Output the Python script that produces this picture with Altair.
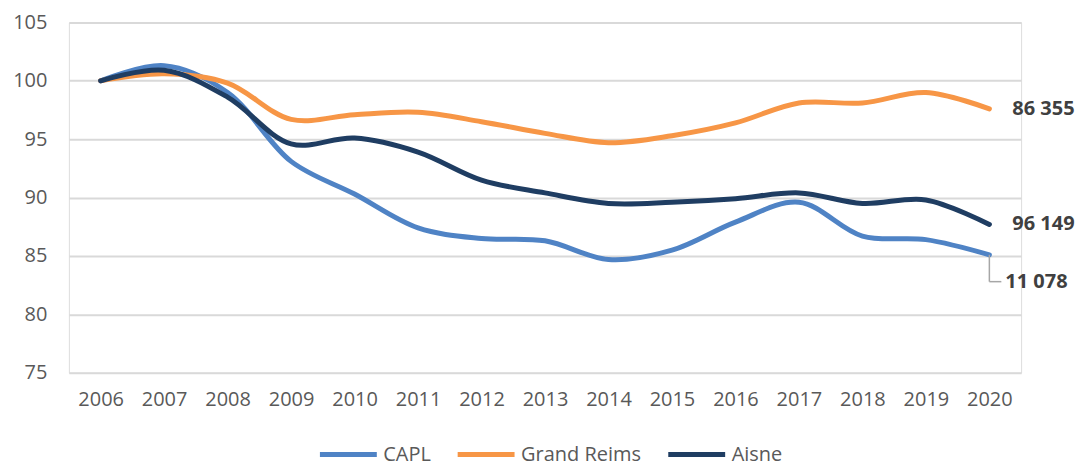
import altair as alt
import pandas as pd

years = [str(y) for y in range(2006, 2021)]
series = ["CAPL", "Grand Reims", "Aisne"]
capl = [100, 101.3, 99.0, 93.1, 90.3, 87.4, 86.5, 86.3, 84.7, 85.5, 87.9, 89.6, 86.7, 86.4, 85.1]
reims = [100, 100.6, 99.8, 96.7, 97.1, 97.3, 96.5, 95.5, 94.7, 95.3, 96.4, 98.1, 98.1, 99.0, 97.6]
aisne = [100, 100.9, 98.6, 94.6, 95.1, 93.9, 91.5, 90.4, 89.5, 89.6, 89.9, 90.4, 89.5, 89.8, 87.7]
end_labels = ["11 078", "86 355", "96 149"]
colors = ["#4F83C5", "#F79646", "#1F3D62"]
leader_drop = 2.3

rows = []
for name, vals in zip(series, [capl, reims, aisne]):
    for y, v in zip(years, vals):
        rows.append({"year": y, "value": v, "series": name})
df = pd.DataFrame(rows)

ends = pd.DataFrame({
    "year": [years[-1]] * 3,
    "series": series,
    "value": [capl[-1], reims[-1], aisne[-1]],
    "label": end_labels,
})
ends["low"] = ends["value"] - leader_drop

x = alt.X("year:O", scale=alt.Scale(type="point", padding=0.5),
          axis=alt.Axis(title=None, labelAngle=0, domain=False, ticks=False, grid=False,
                        labelPadding=17, labelFontSize=20, labelColor="#595959",
                        labelFont="Open Sans"))
y = alt.Y("value:Q", scale=alt.Scale(domain=[75, 105], nice=False, zero=False),
          axis=alt.Axis(title=None, values=[75, 80, 85, 90, 95, 100, 105],
                        domain=False, ticks=False, labelPadding=22,
                        labelFontSize=20, labelColor="#595959", labelFont="Open Sans",
                        gridColor="#D9D9D9", gridWidth=2))

color = alt.Color("series:N", sort=series,
                  scale=alt.Scale(domain=series, range=colors),
                  legend=alt.Legend(title=None, orient="none", direction="horizontal",
                                    legendX=249, legendY=402,
                                    symbolType="stroke", symbolSize=3249,
                                    symbolStrokeWidth=5, labelFontSize=20,
                                    labelFont="Open Sans", labelColor="#595959",
                                    labelOffset=4, columnPadding=16))

lines = alt.Chart(df).mark_line(strokeWidth=5, interpolate="catmull-rom",
                                strokeCap="round").encode(x=x, y=y, color=color)

lab_main = alt.Chart(ends[ends["series"] != "CAPL"]).mark_text(
    align="left", baseline="middle", dx=23, fontSize=20, fontWeight="bold",
    font="Open Sans", color="#404040").encode(
    x=alt.X("year:O"), y=alt.Y("value:Q"), text="label:N")

capl_end = ends[ends["series"] == "CAPL"]
lab_capl = alt.Chart(capl_end).mark_text(
    align="left", baseline="middle", dx=16, fontSize=20, fontWeight="bold",
    font="Open Sans", color="#404040").encode(
    x=alt.X("year:O"), y=alt.Y("low:Q"), text="label:N")

lead_v = alt.Chart(capl_end).mark_rule(color="#A6A6A6", strokeWidth=1.5).encode(
    x=alt.X("year:O"), y=alt.Y("value:Q"), y2="low:Q")
lead_h = alt.Chart(capl_end).mark_rule(color="#A6A6A6", strokeWidth=1.5,
                                       x2Offset=12).encode(
    x=alt.X("year:O"), x2="year:O", y=alt.Y("low:Q"))

chart = alt.layer(lines, lead_v, lead_h, lab_main, lab_capl).properties(
    width=954, height=351,
    padding={"left": 4, "top": 4, "right": 5, "bottom": 5},
).configure_view(stroke=None).configure(background="white")

chart.save("out.html", embed_options={"renderer": "svg", "actions": False})
